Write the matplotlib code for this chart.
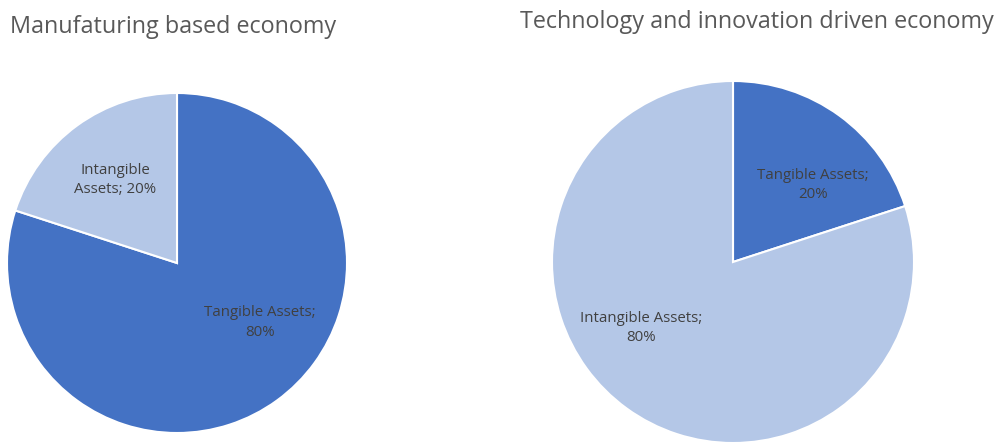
import matplotlib.pyplot as plt

# Asset composition per economy type (percent)
categories = ['Tangible Assets', 'Intangible Assets']
manufacturing = [80, 20]
technology = [20, 80]
titles = ['Manufaturing based economy', 'Technology and innovation driven economy']
labels_left = ['Tangible Assets;\n80%', 'Intangible\nAssets; 20%']
labels_right = ['Tangible Assets;\n20%', 'Intangible Assets;\n80%']

colors = ['#4472C4', '#B4C7E7']
plt.rcParams['font.family'] = ['Open Sans', 'DejaVu Sans']

W, H = 1004, 443
fig = plt.figure(figsize=(W / 100, H / 100), dpi=100)


def pie_axes(cx, cy, r):
    # pixel centre (from top-left) and radius -> figure-fraction axes
    return fig.add_axes([(cx - r) / W, (H - cy - r) / H, 2 * r / W, 2 * r / H])


def draw(ax, values, labels, label_pos):
    ax.pie(values, colors=colors, startangle=90, counterclock=False, radius=1,
           wedgeprops=dict(edgecolor='white', linewidth=1.5))
    ax.set_xlim(-1, 1)
    ax.set_ylim(-1, 1)
    ax.axis('off')
    for lab, (x, y) in zip(labels, label_pos):
        ax.text(x, y, lab, ha='center', va='center', fontsize=10.8,
                color='#404040', linespacing=1.4)


ax1 = pie_axes(177, 263, 170)
draw(ax1, manufacturing, labels_left, [(0.49, -0.35), (-0.365, 0.49)])

ax2 = pie_axes(733, 262, 181)
draw(ax2, technology, labels_right, [(0.44, 0.425), (-0.51, -0.365)])

fig.text(10 / W, 1 - 27 / H, titles[0], ha='left', va='center', fontsize=16.8, color='#595959')
fig.text(520 / W, 1 - 22 / H, titles[1], ha='left', va='center', fontsize=16.8, color='#595959')

fig.savefig('out.png', dpi=100)
